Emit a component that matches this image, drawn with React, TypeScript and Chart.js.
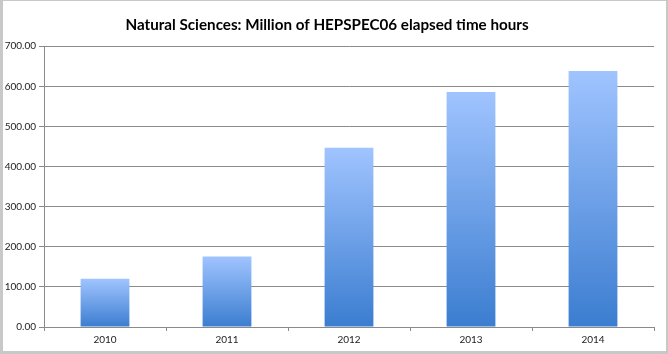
import React, { useEffect, useRef } from "react";
import { Chart, registerables } from "chart.js";

Chart.register(...registerables);

const titleText = "Natural Sciences: Million of HEPSPEC06 elapsed time hours";
const categories = ["2010", "2011", "2012", "2013", "2014"];
const hoursMillions = [120, 176, 447, 586, 638];
const yMax = 700;
const yStep = 100;

const gridColor = "#8a8a8a";
const fontFamily = "Lato, 'Open Sans', sans-serif";

export default function App() {
  const canvasRef = useRef<HTMLCanvasElement | null>(null);

  useEffect(() => {
    const canvas = canvasRef.current;
    if (!canvas) return;
    const chart = new Chart(canvas, {
      type: "bar",
      data: {
        labels: categories,
        datasets: [
          {
            label: "Million HEPSPEC06 hours",
            data: hoursMillions,
            barPercentage: 0.4,
            categoryPercentage: 1,
            borderWidth: 0,
            backgroundColor: (ctx: any) => {
              const ch = ctx.chart;
              if (!ch.chartArea || ctx.type !== "data" || !ctx.parsed) return "#6a9ee6";
              const ys = ch.scales.y;
              const top = ys.getPixelForValue(ctx.parsed.y);
              const bottom = ys.getPixelForValue(0);
              const g = ch.ctx.createLinearGradient(0, top, 0, bottom);
              g.addColorStop(0, "#a0c4ff");
              g.addColorStop(1, "#3b7dd0");
              return g;
            },
          },
        ],
      },
      options: {
        animation: false,
        responsive: false,
        maintainAspectRatio: false,
        layout: { padding: { left: 0, right: 14, top: 0, bottom: 0 } },
        plugins: {
          legend: { display: false },
          tooltip: { enabled: false },
          title: {
            display: true,
            text: titleText,
            color: "#000000",
            font: { family: fontFamily, size: 15.2, weight: "bold", lineHeight: 1.2 },
            padding: { top: 16, bottom: 12 },
          },
        },
        scales: {
          x: {
            offset: true,
            grid: {
              offset: true,
              drawOnChartArea: false,
              drawTicks: true,
              tickLength: 4,
              color: gridColor,
            },
            border: { display: true, color: gridColor, width: 1 },
            ticks: {
              color: "#222222",
              font: { family: fontFamily, size: 10 },
              padding: 3,
              maxRotation: 0,
            },
            afterFit: (scale: any) => {
              scale.height = 27;
            },
          },
          y: {
            min: 0,
            max: yMax,
            ticks: {
              stepSize: yStep,
              color: "#222222",
              font: { family: fontFamily, size: 10 },
              padding: 3,
              callback: (v: any) => Number(v).toFixed(2),
            },
            grid: {
              color: gridColor,
              tickLength: 5,
              drawTicks: true,
            },
            border: { display: true, color: gridColor, width: 1 },
            afterFit: (scale: any) => {
              scale.width = 44;
            },
          },
        },
      },
    });
    return () => chart.destroy();
  }, []);

  return (
    <div style={{ position: "fixed", left: 0, top: 0, width: 668, height: 354, background: "#ffffff" }}>
      <canvas ref={canvasRef} width={668} height={354} style={{ display: "block", width: 668, height: 354 }} />
      <div
        style={{
          position: "absolute",
          left: 0,
          top: 0,
          width: 668,
          height: 354,
          boxSizing: "border-box",
          borderTop: "1px solid #c8c8c8",
          borderLeft: "3px solid #c8c8c8",
          borderRight: "2px solid #c8c8c8",
          borderBottom: "3px solid #c8c8c8",
          pointerEvents: "none",
        }}
      />
    </div>
  );
}
